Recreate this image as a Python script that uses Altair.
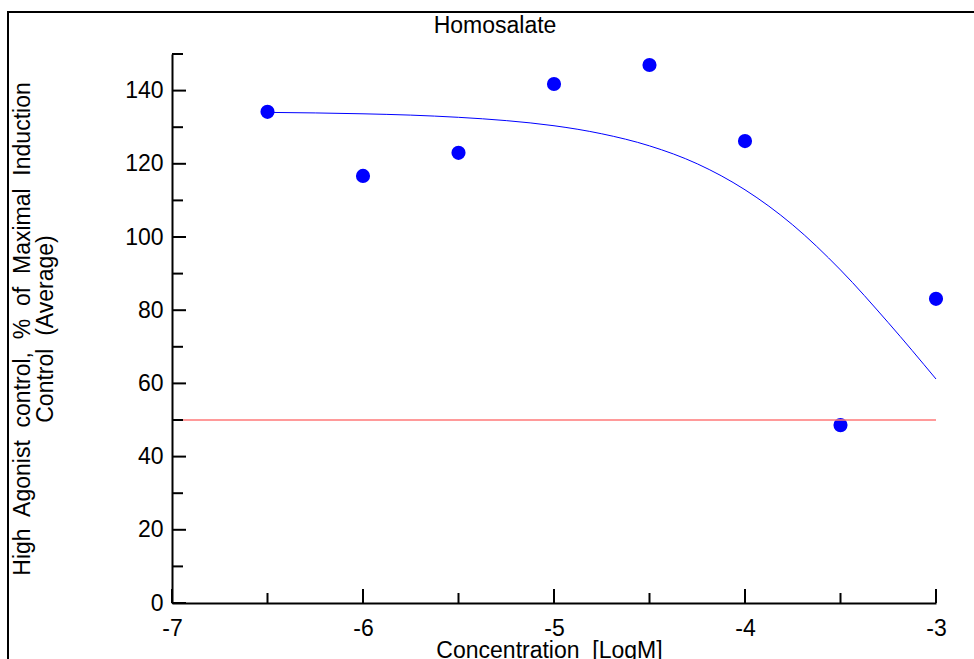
import altair as alt
import pandas as pd

# ---- data ----
conc = [-6.5, -6.0, -5.5, -5.0, -4.5, -4.0, -3.5, -3.0]
resp = [134.2, 116.7, 123.0, 141.8, 147.0, 126.2, 48.6, 83.1]

fit_x = [-6.5, -6.25, -6.0, -5.75, -5.5, -5.25, -5.0, -4.75, -4.5, -4.25,
         -4.0, -3.75, -3.5, -3.25, -3.0]
fit_y = [134.05, 133.9, 133.66, 133.3, 132.7, 131.8, 130.4, 128.2, 124.9,
         120.0, 112.9, 103.3, 91.0, 76.6, 61.2]

ref_level = [50]
ref_from = [-7]
ref_to = [-3]

x_major = [-7, -6, -5, -4, -3]
x_minor = [-6.5, -5.5, -4.5, -3.5]
y_major = [0, 20, 40, 60, 80, 100, 120, 140]
y_minor = [10, 30, 50, 70, 90, 110, 130, 150]

SP = "\u00a0 "  # wide (double) word gap as in the reference
title_text = "Homosalate"
x_title = SP.join(["Concentration", "[LogM]"])
y_title = [SP.join(["High", "Agonist", "control,", "%", "of", "Maximal", "Induction"]),
           SP.join(["Control", "(Average)"])]

FONT = "Liberation Sans"
W, H = 764, 549

xs = alt.Scale(domain=[-7, -3], nice=False, zero=False)
ys = alt.Scale(domain=[0, 150], nice=False, zero=False)

pts_df = pd.DataFrame({"x": conc, "y": resp})
fit_df = pd.DataFrame({"x": fit_x, "y": fit_y})
ref_df = pd.DataFrame({"x": ref_from, "x2": ref_to, "y": ref_level})
xmaj_df = pd.DataFrame({"x": x_major})
xmin_df = pd.DataFrame({"x": x_minor})
ymaj_df = pd.DataFrame({"y": y_major})
ymin_df = pd.DataFrame({"y": y_minor})
one_df = pd.DataFrame({"a": [0]})

axis_common = dict(
    domainColor="black", domainWidth=2, ticks=False, grid=False,
    labelFont=FONT, labelFontSize=23, labelColor="black",
    titleFont=FONT, titleFontSize=23, titleColor="black", titleFontWeight="normal",
    zindex=1,
)

x_axis = alt.Axis(
    values=x_major,
    labelExpr="replace(format(datum.value, 'd'), '\u2212', '-')",
    labelPadding=14, labelFlush=False, labelOverlap=False,
    title=x_title, titleX=377, titleY=36, titleBaseline="top", titleAlign="center",
    **axis_common,
)
y_axis = alt.Axis(
    values=y_major, labelPadding=9, labelOverlap=False,
    title=y_title, titleAngle=270, titleX=-138, titleY=H / 2,
    titleAlign="center", titleBaseline="bottom", titleLineHeight=23,
    **axis_common,
)

points = alt.Chart(pts_df).mark_circle(size=200, color="#0000ff", opacity=1).encode(
    x=alt.X("x:Q", scale=xs, axis=x_axis),
    y=alt.Y("y:Q", scale=ys, axis=y_axis),
)

curve = alt.Chart(fit_df).mark_line(color="#0000ff", strokeWidth=1, interpolate="monotone").encode(
    x=alt.X("x:Q", scale=xs),
    y=alt.Y("y:Q", scale=ys),
)

ref = alt.Chart(ref_df).mark_rule(color="#ff7878", strokeWidth=1.6).encode(
    x=alt.X("x:Q", scale=xs),
    x2="x2:Q",
    y=alt.Y("y:Q", scale=ys),
)

def xticks(df, length):
    return alt.Chart(df).mark_rule(color="black", strokeWidth=2).encode(
        x=alt.X("x:Q", scale=xs),
        y=alt.value(H),
        y2=alt.value(H - length),
    )

def yticks(df, length):
    return alt.Chart(df).mark_rule(color="black", strokeWidth=2).encode(
        y=alt.Y("y:Q", scale=ys),
        x=alt.value(0),
        x2=alt.value(length),
    )

frame = alt.Chart(one_df).mark_rect(fill="transparent", stroke="black", strokeWidth=2).encode(
    x=alt.value(-164), x2=alt.value(W + 100),
    y=alt.value(-42), y2=alt.value(H + 100),
)

chart = alt.layer(
    points, curve, ref,
    xticks(xmaj_df, 14), xticks(xmin_df, 10),
    yticks(ymaj_df, 14), yticks(ymin_df, 11),
    frame,
).properties(
    width=W, height=H,
    background="white",
    title=alt.TitleParams(title_text, font=FONT, fontSize=23, fontWeight="normal",
                          color="black", anchor="middle", dx=-59, offset=0, dy=27),
    autosize=alt.AutoSizeParams(type="none"),
    padding={"left": 172, "top": 54, "right": 38, "bottom": 56},
).configure_view(strokeWidth=0)

chart.save("out.html", embed_options={"renderer": "svg", "actions": False})
